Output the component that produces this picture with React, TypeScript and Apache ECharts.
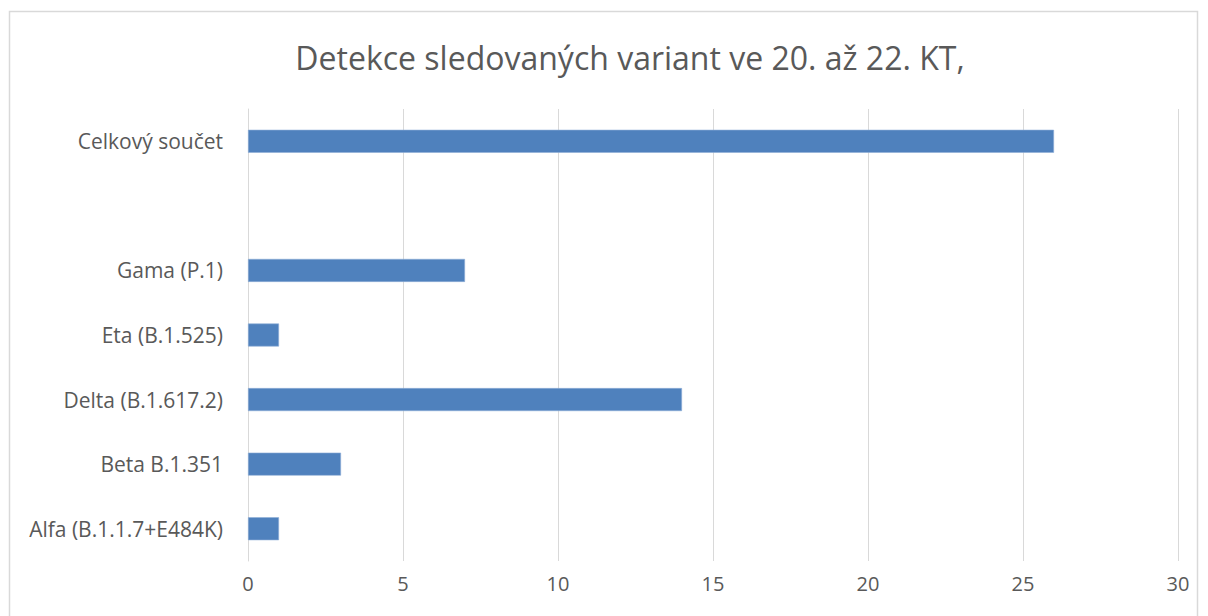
import React, { useEffect, useRef } from "react";
import * as echarts from "echarts";

const categories = [
  "Alfa (B.1.1.7+E484K)",
  "Beta B.1.351",
  "Delta (B.1.617.2)",
  "Eta (B.1.525)",
  "Gama (P.1)",
  "",
  "Celkový součet",
];
const values: (number | null)[] = [1, 3, 14, 1, 7, null, 26];
const titleText = "Detekce sledovaných variant ve 20. až 22. KT,";
const xMin = 0;
const xMax = 30;
const xInterval = 5;

export default function App() {
  const ref = useRef<HTMLDivElement>(null);
  useEffect(() => {
    if (!ref.current) return;
    const chart = echarts.init(ref.current, undefined, { renderer: "svg" });
    const font = "'Open Sans', 'Noto Sans', sans-serif";
    chart.setOption({
      animation: false,
      backgroundColor: "#ffffff",
      title: {
        text: titleText,
        left: 625,
        top: 36,
        textAlign: "center",
        textStyle: {
          fontFamily: font,
          fontSize: 32,
          fontWeight: "normal",
          color: "#595959",
        },
      },
      graphic: [
        {
          type: "rect",
          shape: { x: 9.5, y: 11.5, width: 1188, height: 640 },
          style: { fill: "none", stroke: "#d9d9d9", lineWidth: 1.5 },
          silent: true,
          z: -1,
        },
      ],
      grid: { left: 248, right: 30, top: 109, bottom: 55, containLabel: false },
      xAxis: {
        type: "value",
        min: xMin,
        max: xMax,
        interval: xInterval,
        axisLine: { show: false },
        axisTick: { show: false },
        splitLine: { show: true, lineStyle: { color: "#d9d9d9", width: 1 } },
        axisLabel: {
          fontFamily: font,
          fontSize: 20,
          color: "#595959",
          margin: 12,
        },
      },
      yAxis: {
        type: "category",
        data: categories,
        axisLine: { show: true, lineStyle: { color: "#d9d9d9", width: 1 } },
        axisTick: { show: false },
        axisLabel: {
          fontFamily: font,
          fontSize: 21,
          color: "#595959",
          margin: 25,
        },
      },
      series: [
        {
          type: "bar",
          data: values,
          barWidth: 23,
          itemStyle: { color: "#4F81BD", borderColor: "#8eaed6", borderWidth: 0.6 },
        },
      ],
    });
    return () => chart.dispose();
  }, []);
  return (
    <div
      ref={ref}
      style={{ position: "absolute", left: 0, top: 0, width: 1208, height: 616 }}
    />
  );
}
